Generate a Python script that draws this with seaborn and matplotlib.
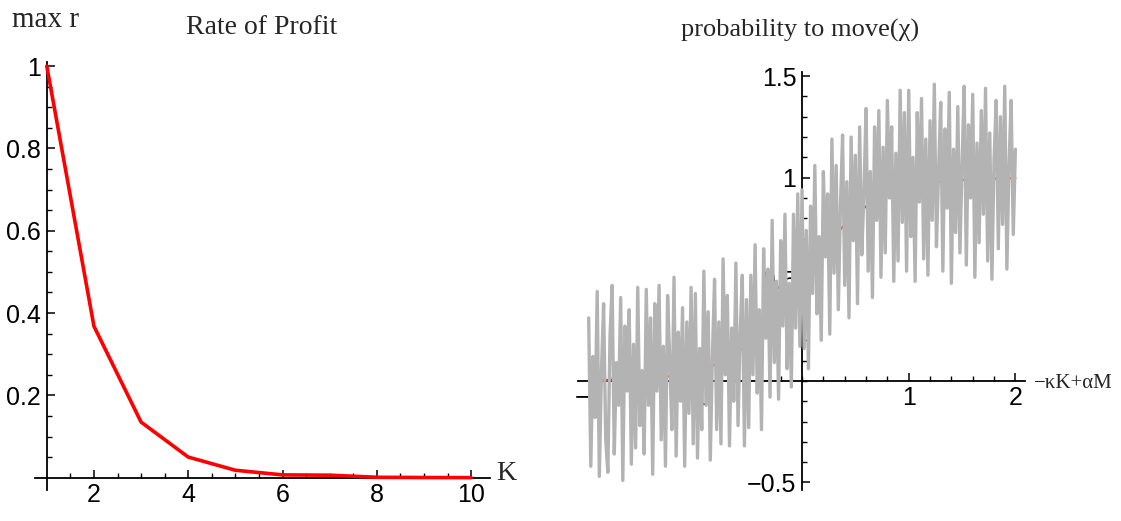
import numpy as np
import matplotlib
matplotlib.use("Agg")
import matplotlib.pyplot as plt
from matplotlib.ticker import MultipleLocator, FixedLocator
import seaborn as sns
import pandas as pd

sns.set_style("white")
plt.rcParams['font.family'] = ['Liberation Sans', 'DejaVu Sans']

# ---- Left panel data: Rate of Profit ----
K_values = [1, 2, 3, 4, 5, 6, 7, 8, 9, 10]
max_r = [1.0, 0.368, 0.135, 0.050, 0.018, 0.0067, 0.0060, 0.0009, 0.0003, 0.0001]

# ---- Right panel data: probability to move ----
chi_x = [round(-2 + 0.1 * i, 2) for i in range(41)]
chi_prob = [0.0025, 0.0033, 0.0045, 0.0061, 0.0082, 0.011, 0.0148, 0.0198, 0.0266, 0.0356,
            0.0474, 0.063, 0.0832, 0.109, 0.142, 0.182, 0.231, 0.289, 0.354, 0.426,
            0.5, 0.574, 0.646, 0.711, 0.769, 0.818, 0.858, 0.891, 0.917, 0.937,
            0.9526, 0.9644, 0.9734, 0.9802, 0.9852, 0.989, 0.9918, 0.9939, 0.9955, 0.9967, 0.9975]

noisy_x = [round(-2 + 0.02 * i, 2) for i in range(201)]
noisy_prob = [
    0.31, -0.42, 0.12, -0.18, 0.44, -0.47, 0.05, 0.38, -0.29, -0.45, 0.22, 0.47, -0.36, 0.09, -0.12,
    0.41, -0.49, 0.27, -0.05, 0.35, -0.41, 0.18, -0.33, 0.46, -0.22,
    0.05, -0.36, 0.45, -0.12, 0.31, -0.46, 0.38, -0.05, 0.47, -0.29, 0.17, -0.42, 0.42, 0.10, -0.24,
    0.51, -0.37, 0.24, -0.10, 0.36, -0.42, 0.29, -0.16, 0.46, -0.31,
    0.43, -0.38, 0.16, -0.24, 0.54, -0.12, 0.34, -0.39, 0.13, 0.50, -0.24, 0.29, -0.31, 0.60, 0.03,
    0.42, -0.32, 0.26, -0.10, 0.58, -0.22, 0.23, 0.52, -0.32, 0.40,
    -0.23, 0.52, 0.03, 0.67, -0.06, 0.35, -0.24, 0.65, 0.21, 0.55, -0.08, 0.79, 0.09, 0.49, -0.09,
    0.69, 0.27, 0.82, 0.06, 0.48, -0.03, 0.82, 0.26, 0.92, 0.17,
    0.94, 0.16, 0.74, 0.06, 0.86, 0.43, 1.06, 0.33, 0.71, 0.20, 1.03, 0.61, 0.92, 0.23, 1.19,
    0.53, 1.06, 0.35, 0.86, 1.21, 0.47, 0.98, 0.31, 1.20, 0.69,
    1.11, 0.38, 1.25, 0.62, 0.92, 1.34, 0.54, 1.03, 0.41, 1.25, 0.79, 1.33, 0.51, 1.15, 0.63,
    1.38, 0.90, 1.25, 0.49, 1.12, 0.59, 1.43, 0.78, 1.32, 0.54,
    1.43, 0.71, 1.10, 0.49, 1.32, 0.88, 1.39, 0.60, 1.19, 0.52, 1.28, 0.79, 1.46, 0.66, 1.03,
    1.37, 0.54, 1.24, 0.85, 1.42, 0.48, 1.14, 0.73, 1.35, 0.63, 1.07, 1.45, 0.57, 1.26, 0.90,
    1.41, 0.51, 1.17, 0.68, 1.33, 0.82, 1.44, 0.59, 1.22, 0.50, 1.09, 1.38, 0.65, 1.30, 0.77,
    1.45, 0.55, 1.06, 1.38, 0.72, 1.14,
]

left_df = pd.DataFrame({"K": K_values, "r": max_r})
curve_df = pd.DataFrame({"x": chi_x, "p": chi_prob})
noisy_df = pd.DataFrame({"x": noisy_x, "p": noisy_prob})

fig = plt.figure(figsize=(11.21, 5.21), dpi=100)
axL = fig.add_axes([35 / 1121, 31 / 521, 455 / 1121, 428 / 521])
axR = fig.add_axes([578 / 1121, 31 / 521, 447 / 1121, 418 / 521])

label_font = dict(family=['Liberation Serif', 'DejaVu Serif'])
tick_fs = 18


def math_axes(ax):
    for s in ['top', 'right']:
        ax.spines[s].set_visible(False)
    for s in ['left', 'bottom']:
        ax.spines[s].set_color('black')
        ax.spines[s].set_linewidth(1.3)
    ax.tick_params(which='both', bottom=True, left=True, top=False, right=False)
    ax.tick_params(which='major', direction='in', length=6, width=1.1, labelsize=tick_fs,
                   colors='black', pad=4)
    ax.tick_params(which='minor', direction='in', length=3.5, width=1.0, colors='black')
    ax.grid(False)
    ax.set_facecolor('white')


# ---- Left panel ----
sns.lineplot(data=left_df, x="K", y="r", ax=axL, color='#ff0000', linewidth=2.6, zorder=3)
axL.set_xlim(0.75, 10.4)
axL.set_ylim(-0.03, 1.01)
math_axes(axL)
axL.spines['left'].set_position(('data', 1))
axL.spines['bottom'].set_position(('data', 0))
axL.xaxis.set_major_locator(FixedLocator([2, 4, 6, 8, 10]))
axL.xaxis.set_minor_locator(FixedLocator([1.5, 2.5, 3, 3.5, 4.5, 5, 5.5, 6.5, 7, 7.5, 8.5, 9, 9.5]))
axL.yaxis.set_major_locator(FixedLocator([0.2, 0.4, 0.6, 0.8, 1.0]))
axL.yaxis.set_minor_locator(FixedLocator([0.05 * i for i in range(1, 20) if i % 4 != 0]))
axL.set_xticklabels(['2', '4', '6', '8', '10'])
axL.set_yticklabels(['0.2', '0.4', '0.6', '0.8', '1'])
axL.set_xlabel('')
axL.set_ylabel('')
fig.text(12 / 1121, 1 - 20 / 521, 'max r', fontsize=21, va='center', ha='left', **label_font)
fig.text(262 / 1121, 1 - 28 / 521, 'Rate of Profit', fontsize=20, va='center', ha='center', **label_font)
fig.text(496 / 1121, 1 - 474 / 521, 'K', fontsize=20, va='center', ha='left', **label_font)

# ---- Right panel ----
math_axes(axR)
axR.set_xlim(-2.1, 2.09)
axR.set_ylim(-0.537, 1.52)
axR.spines['left'].set_position(('data', 0))
axR.spines['bottom'].set_position(('data', 0))
axR.spines['left'].set_zorder(1)
axR.spines['bottom'].set_zorder(1)
axR.xaxis.set_major_locator(FixedLocator([-2, -1, 1, 2]))
axR.xaxis.set_minor_locator(MultipleLocator(0.2))
axR.yaxis.set_major_locator(FixedLocator([-0.5, 0.5, 1.0, 1.5]))
axR.yaxis.set_minor_locator(MultipleLocator(0.1))
axR.set_xticklabels(['\u22122', '\u22121', '1', '2'])
axR.set_yticklabels(['\u22120.5', '0.5', '1', '1.5'])
sns.lineplot(data=curve_df, x="x", y="p", ax=axR, color='#ff0000', linewidth=1.6, zorder=3)
sns.lineplot(data=noisy_df, x="x", y="p", ax=axR, color='#b3b3b3', linewidth=2.4, zorder=4)
axR.set_xlabel('')
axR.set_ylabel('')
fig.text(800 / 1121, 1 - 30 / 521, 'probability to move(\u03c7)', fontsize=19, va='center', ha='center',
         **label_font)
fig.text(1034 / 1121, 1 - 383 / 521, '\u2212\u03baK+\u03b1M', fontsize=15, va='center', ha='left',
         **label_font)

fig.savefig('out.png', dpi=100, facecolor='white')
